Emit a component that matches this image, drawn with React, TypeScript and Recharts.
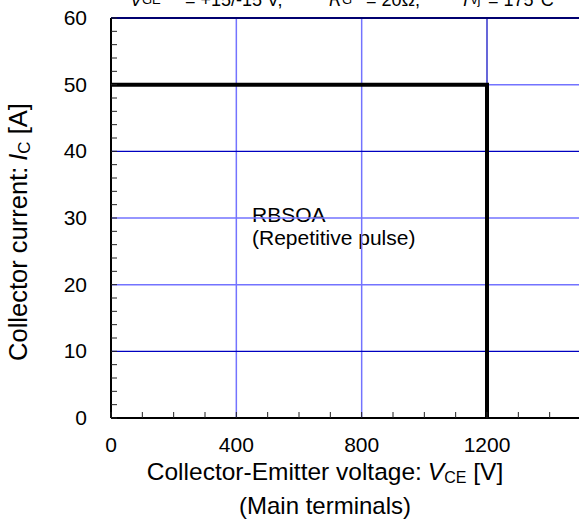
import React from "react";
import { LineChart, Line, XAxis, YAxis, ReferenceLine } from "recharts";

// RBSOA boundary (Collector-Emitter voltage [V] vs collector current [A])
const vcePoints = [0, 1200, 1200];
const icPoints = [50, 50, 0];

const vceTicks = [0, 100, 200, 300, 400, 500, 600, 700, 800, 900, 1000, 1100, 1200, 1300, 1400, 1500];
const vceLabels = [0, 400, 800, 1200];
const icTicks = [0, 2, 4, 6, 8, 10, 12, 14, 16, 18, 20, 22, 24, 26, 28, 30, 32, 34, 36, 38, 40, 42, 44, 46, 48, 50, 52, 54, 56, 58, 60];
const icLabels = [0, 10, 20, 30, 40, 50, 60];

const lightVGrid = [400, 800];
const lightHGrid = [20, 30];
const darkHGrid = [10, 40];

const data = vcePoints.map((v, i) => ({ vce: v, ic: icPoints[i] }));

const FONT = "'Liberation Sans', Arial, sans-serif";
const LIGHT = "#7373ff";
const DARK = "#0000c0";

function XTick(props: any) {
  const { x, y, payload } = props;
  const v = payload.value;
  return (
    <g>
      <line x1={x} y1={y} x2={x} y2={y - 6} stroke="#222" strokeWidth={1} />
      {vceLabels.includes(v) && (
        <text x={x} y={y + 34} textAnchor="middle" fontSize={21} fontFamily={FONT} fill="#000">
          {v}
        </text>
      )}
    </g>
  );
}

function YTick(props: any) {
  const { x, y, payload } = props;
  const v = payload.value;
  return (
    <g>
      <line x1={x} y1={y} x2={x + 6} y2={y} stroke="#222" strokeWidth={1} />
      {icLabels.includes(v) && (
        <text x={x - 24} y={y + 7} textAnchor="end" fontSize={21} fontFamily={FONT} fill="#000">
          {v}
        </text>
      )}
    </g>
  );
}

export default function App() {
  return (
    <div style={{ position: "absolute", left: 0, top: 0, width: 579, height: 524, overflow: "hidden", background: "#fff" }}>
      <LineChart width={590} height={524} data={data} margin={{ top: 18, right: 9, left: 0, bottom: 0 }}>
        <XAxis
          dataKey="vce"
          type="number"
          domain={[0, 1500]}
          ticks={vceTicks}
          interval={0}
          tickLine={false}
          tickSize={0}
          tickMargin={0}
          axisLine={{ stroke: "#000", strokeWidth: 2 }}
          tick={(p: any) => <XTick {...p} />}
          height={106}
          allowDataOverflow
        />
        <YAxis
          type="number"
          domain={[0, 60]}
          ticks={icTicks}
          interval={0}
          tickLine={false}
          tickSize={0}
          tickMargin={0}
          axisLine={{ stroke: "#000", strokeWidth: 2 }}
          tick={(p: any) => <YTick {...p} />}
          width={111}
          allowDataOverflow
        />
        {lightVGrid.map((v) => (
          <ReferenceLine key={"lv" + v} x={v} stroke={LIGHT} strokeWidth={1.5} />
        ))}
        {lightHGrid.map((v) => (
          <ReferenceLine key={"lh" + v} y={v} stroke={LIGHT} strokeWidth={1.5} />
        ))}
        {darkHGrid.map((v) => (
          <ReferenceLine key={"dh" + v} y={v} stroke={DARK} strokeWidth={1.2} />
        ))}
        <ReferenceLine segment={[{ x: 1200, y: 50 }, { x: 1500, y: 50 }]} stroke={LIGHT} strokeWidth={1.5} />
        <ReferenceLine segment={[{ x: 1200, y: 50 }, { x: 1200, y: 60 }]} stroke={DARK} strokeWidth={1.2} />
        <ReferenceLine y={60} stroke="#000070" strokeWidth={2} />
        <Line
          type="linear"
          dataKey="ic"
          stroke="#000"
          strokeWidth={4}
          strokeLinejoin="miter"
          dot={false}
          isAnimationActive={false}
        />
        {/* conditions line, cut off at the top edge as in the source */}
        <g fontFamily={FONT} fill="#000">
          <text x={130} y={6} fontSize={18} fontStyle="italic">V</text>
          <text x={142} y={4} fontSize={13}>GE</text>
          <text x={185} y={6} fontSize={18}>= +15/-15 V,</text>
          <text x={329} y={6} fontSize={18} fontStyle="italic">R</text>
          <text x={342} y={4} fontSize={13}>G</text>
          <text x={366} y={6} fontSize={18}>= 20Ω,</text>
          <text x={460} y={6} fontSize={18} fontStyle="italic">T</text>
          <text x={471} y={4} fontSize={13}>vj</text>
          <text x={488} y={6} fontSize={18}>= 175°C</text>
        </g>
        <text x={252} y={222} fontSize={21} fontFamily={FONT} fill="#000">RBSOA</text>
        <text x={252} y={245} fontSize={21} fontFamily={FONT} fill="#000">(Repetitive pulse)</text>
        <text x={325} y={480} textAnchor="middle" fontSize={24.5} fontFamily={FONT} fill="#000">
          Collector-Emitter voltage:
          <tspan dx={6} fontStyle="italic">V</tspan>
          <tspan fontSize={16} dy={3}>CE</tspan>
          <tspan dy={-3}> [V]</tspan>
        </text>
        <text x={325} y={514} textAnchor="middle" fontSize={24} fontFamily={FONT} fill="#000">
          (Main terminals)
        </text>
        <text x={27} y={232} transform="rotate(-90 27 232)" textAnchor="middle" fontSize={25.5} fontFamily={FONT} fill="#000">
          Collector current:
          <tspan dx={6} fontStyle="italic">I</tspan>
          <tspan fontSize={17} dy={3}>C</tspan>
          <tspan dy={-3}> [A]</tspan>
        </text>
      </LineChart>
    </div>
  );
}
